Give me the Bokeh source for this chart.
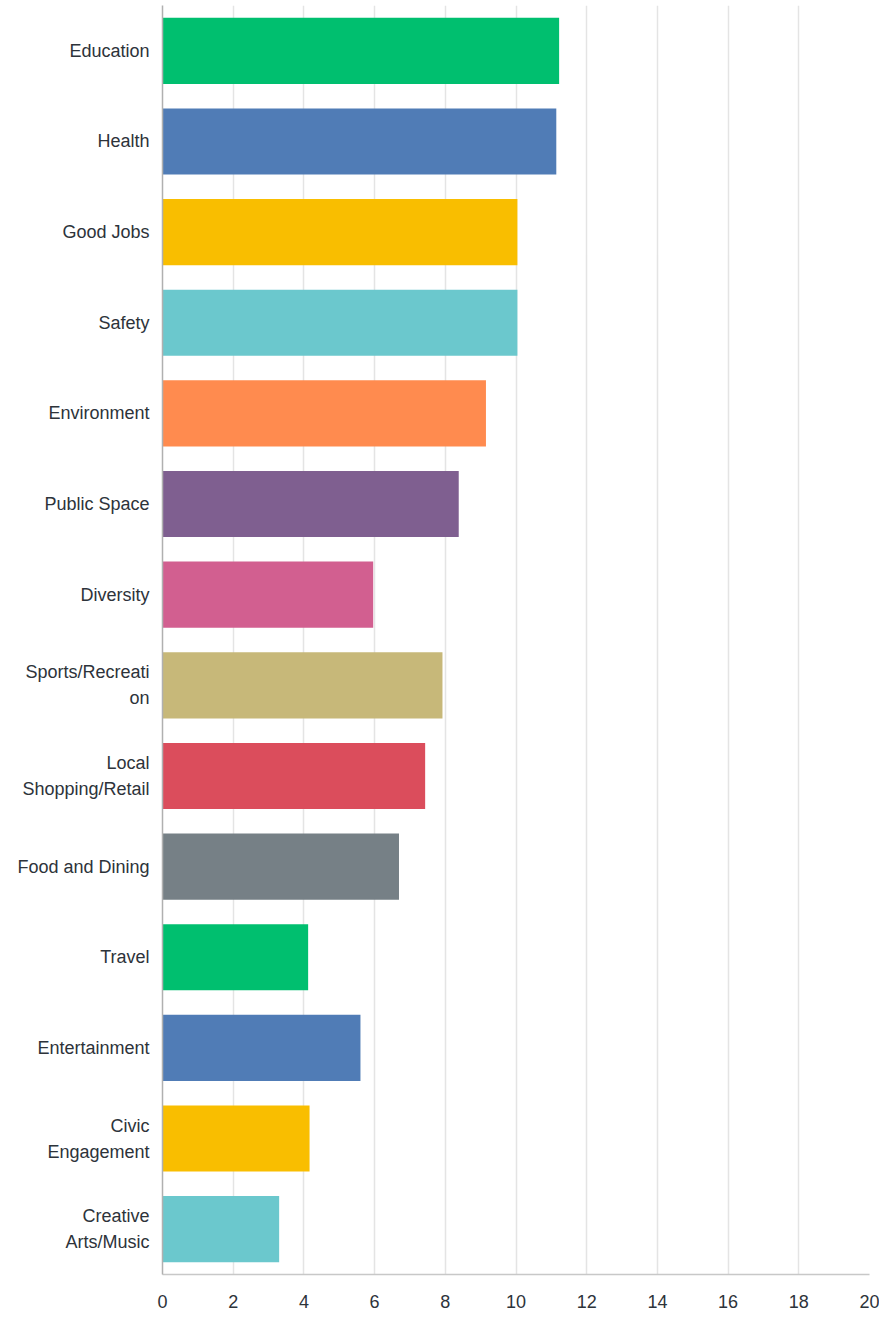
from bokeh.plotting import figure
from bokeh.models import ColumnDataSource, FactorRange, FixedTicker
from bokeh.embed import file_html
from bokeh.resources import INLINE

categories = ["Education", "Health", "Good Jobs", "Safety", "Environment",
              "Public Space", "Diversity", "Sports/Recreati\non", "Local\nShopping/Retail",
              "Food and Dining", "Travel", "Entertainment", "Civic\nEngagement",
              "Creative\nArts/Music"]
values = [11.22, 11.14, 10.04, 10.04, 9.15, 8.38, 5.96, 7.92, 7.43, 6.69, 4.12, 5.60, 4.16, 3.30]
colors = ["#00BF6F", "#507CB6", "#F9BE00", "#6BC8CD", "#FF8B4F", "#7F5F90", "#D25F90",
          "#C7B879", "#DB4D5C", "#768086", "#00BF6F", "#507CB6", "#F9BE00", "#6BC8CD"]
x_ticks = [0, 2, 4, 6, 8, 10, 12, 14, 16, 18, 20]

source = ColumnDataSource(data=dict(cat=categories, val=values, color=colors))

p = figure(width=879, height=1310, output_backend="svg", toolbar_location=None,
           y_range=FactorRange(factors=list(reversed(categories))),
           x_range=(0, 20), min_border_left=162, min_border_right=10,
           min_border_top=5, min_border_bottom=36)

p.hbar(y="cat", right="val", left=0, height=0.73, color="color", line_color=None,
       source=source)

p.outline_line_color = None
p.ygrid.grid_line_color = None
p.xgrid.grid_line_color = "#e4e4e4"
p.xgrid.grid_line_width = 1.5
p.xaxis.ticker = FixedTicker(ticks=x_ticks)

p.xaxis.axis_line_color = "#c8c8c8"
p.xaxis.axis_line_width = 1.5
p.xaxis.major_tick_line_color = None
p.xaxis.minor_tick_line_color = None
p.xaxis.major_label_text_font = "Liberation Sans"
p.xaxis.major_label_text_font_size = "18px"
p.xaxis.major_label_text_color = "#2d333a"
p.xaxis.major_label_standoff = 14

p.yaxis.axis_line_color = "#b0b0b0"
p.yaxis.axis_line_width = 1.5
p.yaxis.major_tick_line_color = None
p.yaxis.minor_tick_line_color = None
p.yaxis.major_label_text_font = "Liberation Sans"
p.yaxis.major_label_text_font_size = "18px"
p.yaxis.major_label_text_color = "#2d333a"
p.yaxis.major_label_text_line_height = 1.3
p.yaxis.major_label_standoff = 7

open("out.html", "w").write(file_html(p, INLINE))
